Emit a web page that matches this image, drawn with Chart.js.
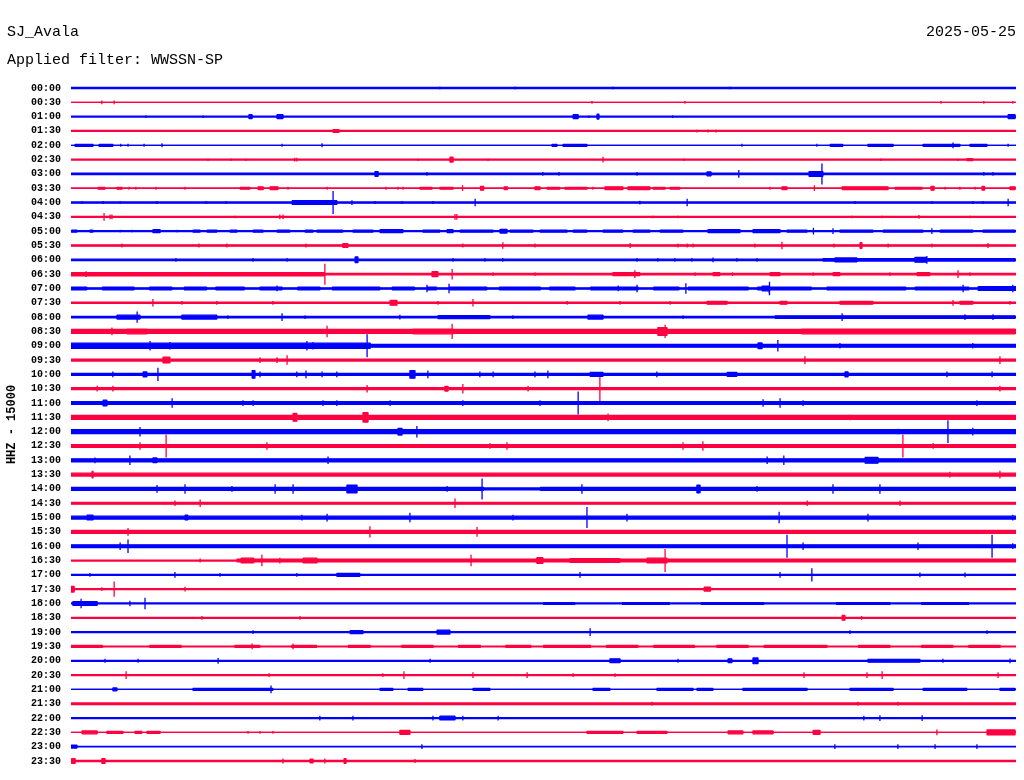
<!DOCTYPE html>
<html>
<head>
<meta charset="utf-8">
<title>SJ_Avala helicorder</title>
<script src="https://cdn.jsdelivr.net/npm/chart.js@4.4.1/dist/chart.umd.min.js"></script>
<style>
  html, body { margin: 0; padding: 0; background: #ffffff; }
  #wrap { width: 1024px; height: 780px; position: relative; }
  canvas { display: block; }
</style>
</head>
<body>
<div id="wrap"><canvas id="c" width="1024" height="780"></canvas></div>
<script>
// ---------- header texts ----------
const stationName = 'SJ_Avala';
const dateText = '2025-05-25';
const filterText = 'Applied filter: WWSSN-SP';
const axisTitle = 'HHZ - 15000';

// ---------- trace start times (y tick labels) ----------
const times = ['00:00','00:30','01:00','01:30','02:00','02:30','03:00','03:30',
  '04:00','04:30','05:00','05:30','06:00','06:30','07:00','07:30',
  '08:00','08:30','09:00','09:30','10:00','10:30','11:00','11:30',
  '12:00','12:30','13:00','13:30','14:00','14:30','15:00','15:30',
  '16:00','16:30','17:00','17:30','18:00','18:30','19:00','19:30',
  '20:00','20:30','21:00','21:30','22:00','22:30','23:00','23:30'];

// trace spacing in thousands of counts (15000 counts per line)
const traceSpacing = 15;

// background noise half-amplitude of each line (kcounts)
const noiseLevel = [0.5,0,0.5,0.5,0,0.5,0.7,0,0.7,0.5,
  0.5,0.7,0.7,0.7,0.7,0.7,0.7,2,1.5,1,
  1,1,1.5,2,2,1.5,1.5,1.5,1,1,
  1.5,1.5,1.5,0.5,0.5,0.5,0.5,0.5,0.5,0.3,
  0.5,0.5,0,0.8,0.5,0,0.3,0.7];

// bursts: [start minute, end minute, half-amplitude kcounts]
const bursts = [
  [],
  [],
  [[5.65,5.75,2],[6.54,6.73,2],[15.94,16.1,2],[16.7,16.76,2.5],[29.75,29.97,2]],
  [[8.32,8.51,1.5]],
  [[0.13,0.7,1],[0.89,1.33,1],[15.27,15.43,1],[15.62,16.38,1],[24.1,24.5,1],[25.3,26.1,1],[27.05,28.22,1],[28.54,29.08,1]],
  [[12.03,12.13,2.5],[28.44,28.63,1]],
  [[9.65,9.75,2.5],[20.19,20.32,2],[23.43,23.87,2.5]],
  [[0.86,1.08,1],[1.46,1.62,1],[5.37,5.68,1],[5.94,6.1,1.5],[6.32,6.57,1.5],[11.08,11.46,1],[11.71,12.13,1],[13.0,13.1,2],[13.75,13.85,1.5],[14.73,14.89,1.5],[15.11,15.52,1],[15.68,16.38,1],[16.95,17.52,1.5],[17.68,18.38,1.5],[18.48,18.86,1],[19.02,19.33,1],[22.57,22.73,1.5],[24.48,25.94,1.5],[26.16,27.02,1],[27.3,27.4,2],[28.92,29.0,2],[29.81,29.97,1.5]],
  [[7.02,8.44,2]],
  [],
  [[0.03,0.19,1],[0.6,0.7,1],[2.6,2.83,1.5],[3.87,4.1,1],[4.32,4.63,1],[5.05,5.27,1],[5.78,6.1,1],[6.54,6.95,1],[7.43,7.68,1],[7.81,8.63,1],[8.95,9.59,1],[9.81,10.54,1.5],[11.17,11.71,1],[11.94,12.13,1.5],[12.35,13.4,1],[13.62,13.84,2],[13.94,14.67,1],[14.89,15.75,1],[15.94,16.38,1],[16.89,17.52,1],[17.84,18.38,1],[18.7,19.43,1],[20.22,21.24,1.5],[21.65,22.51,1.5],[22.73,23.37,1],[24.41,25.46,1],[25.78,27.05,1],[27.59,28.63,1],[28.95,29.97,1]],
  [[8.63,8.79,2],[25.05,25.11,3]],
  [[9.02,9.11,3],[23.87,29.97,1.3],[24.25,24.95,2],[26.79,27.17,2.5]],
  [[0,8.06,1.7],[11.46,11.65,2.5],[17.2,18.06,1.5],[20.38,20.6,1.5],[22.19,22.51,1.5],[24.19,24.41,1.5],[26.86,27.27,1.5]],
  [[0,0.5,1.5],[1.0,2.0,1.5],[2.5,3.2,1.5],[3.6,4.3,1.5],[4.6,5.5,1.5],[6.0,6.7,1.5],[7.2,7.9,1.5],[8.3,9.8,1.5],[10.2,10.9,1.5],[11.3,11.6,1.5],[12.0,13.2,1.5],[13.6,14.9,1.5],[15.2,16.0,1.5],[16.5,18.0,1.5],[18.5,19.3,1.5],[19.6,21.5,1.5],[21.8,23.5,1.5],[21.94,22.19,2.5],[24.0,26.5,1.5],[26.8,28.5,1.5],[28.8,30,2]],
  [[10.13,10.35,2.5],[20.19,20.83,1.5],[22.51,22.73,1.5],[24.41,25.46,1.5],[28.22,28.63,1.5]],
  [[1.46,2.19,2],[3.52,4.63,2],[11.65,13.3,1.5],[16.41,16.89,2],[22.35,29.97,1.3]],
  [[1.78,2.41,2.5],[10.86,12.13,2.5],[18.63,18.92,4],[23.2,29.97,2.5]],
  [[0,9.5,2.7],[21.81,21.94,3]],
  [[2.92,3.14,3]],
  [[2.29,2.41,2.5],[5.75,5.84,4],[10.76,10.92,4],[16.48,16.89,2],[20.83,21.14,2],[24.57,24.67,2.5]],
  [[11.87,11.97,2.5]],
  [[1.02,1.14,3]],
  [[7.05,7.17,4],[9.27,9.43,5]],
  [[10.38,10.51,3.5]],
  [],
  [[2.6,2.73,2.5],[25.21,25.62,3]],
  [[0.67,0.7,3.5]],
  [[0,13.1,1.5],[8.76,9.08,4],[14.9,30,1.5],[19.87,19.97,4]],
  [],
  [[0.51,0.7,2.5],[3.62,3.71,2.5]],
  [],
  [],
  [[5.27,30,1.5],[5.4,5.8,2.5],[7.37,7.81,2.5],[14.79,14.98,3],[15.84,17.43,2],[18.29,18.92,2.5]],
  [[8.44,9.17,1.5]],
  [[0,0.1,3],[20.1,20.3,2]],
  [[0.06,0.83,2],[15,16,1],[17.5,19,1],[20,22,1],[24.3,26,1],[27,28.5,1]],
  [[24.48,24.57,2.5]],
  [[8.86,9.27,1.5],[11.62,12.03,2]],
  [[0,1.0,1],[2.5,3.5,1],[5.2,6.0,1],[7.0,7.8,1],[8.8,9.5,1],[10.5,11.5,1],[12.3,13.0,1],[13.8,14.6,1],[15.0,16.5,1],[17.0,18.0,1],[18.5,19.8,1],[20.5,21.5,1],[22.0,24.0,1],[25.0,26.0,1],[27.0,28.0,1],[28.5,29.5,1]],
  [[17.11,17.43,2],[20.86,20.98,2],[21.65,21.81,3],[25.3,26.95,1.5]],
  [],
  [[1.33,1.46,1.5],[3.87,6.41,1],[9.81,10.22,1],[10.7,11.17,1],[12.76,13.3,1],[16.57,17.11,1],[18.6,19.75,1],[19.87,20.38,1],[21.33,23.37,1],[24.73,26.1,1],[27.05,28.44,1],[29.49,29.97,1]],
  [],
  [[11.71,12.19,2]],
  [[0.35,0.83,1.5],[1.14,1.65,1],[2.03,2.25,1],[2.41,2.83,1],[10.44,10.76,2],[16.38,17.52,1],[17.97,18.92,1],[20.86,21.33,1.5],[21.65,22.29,1.5],[23.56,23.78,2],[29.08,29.97,2.5]],
  [[0,0.19,1.5]],
  [[0.03,0.13,2.5],[0.98,1.08,2.5],[7.59,7.68,2],[8.67,8.73,2.5]]
];

// spikes: [minute, half-amplitude kcounts]
const spikes = [
  [[11.71,1.5],[14.1,1.5],[17.2,1.5],[20.92,1.5]],
  [[0.98,2],[1.37,2],[16.54,1.5],[19.49,1.5],[27.62,1.5],[28.98,1.5],[29.9,1.5]],
  [[2.38,1.5],[4.19,1.5],[16.45,1.5],[19.1,1.5]],
  [[19.87,1.5],[20.22,1.5],[20.48,1.5]],
  [[1.58,1.5],[1.81,1.5],[2.32,1.5],[2.89,2],[6.7,1.5],[7.97,2],[21.3,1.5],[23.68,1.5],[28.0,3],[29.75,1.5]],
  [[4.35,1.5],[5.08,1.5],[5.56,1.5],[7.1,2],[7.17,2],[11.02,1.5],[13.24,1.5],[16.89,3],[19.46,1.5],[25.71,1.5],[28.16,1.5]],
  [[8.13,1.5],[8.32,1.5],[10.03,1.5],[11.3,2],[12.92,1.5],[14.98,2],[15.49,2],[16.0,1.5],[16.6,1.5],[17.97,2],[18.16,1.5],[21.2,4],[21.65,1.5],[23.84,11],[28.98,2],[29.27,2]],
  [[1.84,1.5],[2.06,1.5],[2.7,1.5],[3.62,1.5],[6.89,1.5],[8.13,1.5],[10.0,1.5],[10.38,1.5],[10.54,1.5],[12.43,3],[16.57,1.5],[22.19,1.5],[23.6,3],[27.75,1.5],[28.22,1.5],[28.7,1.5]],
  [[0.35,1.5],[1.02,1.5],[1.56,1.5],[2.73,1.5],[4.29,1.5],[4.92,1.5],[8.32,12],[8.92,2.5],[9.65,1.5],[10.51,1.5],[11.49,1.5],[12.83,4],[18.06,2],[19.56,4],[24.89,1.5],[27.33,1.5],[28.63,1.5],[28.95,1.5],[29.75,4]],
  [[1.05,4],[1.24,2.5],[1.3,2.5],[5.21,1.5],[6.63,2.5],[6.73,2.5],[12.19,3],[12.25,3],[18.48,1.5],[19.27,1.5],[24.79,1.5],[25.75,1.5],[26.92,2],[28.54,1.5]],
  [[1.56,1.5],[1.94,1.5],[3.37,1.5],[23.57,3.5],[24.19,3],[27.33,3]],
  [[1.62,2],[4.06,2],[4.95,2],[7.46,2],[12.44,2],[13.71,3.5],[14.73,2],[17.75,2.5],[19.27,2],[19.56,2],[19.75,2],[21.71,2],[22.57,4],[24.22,2],[25.94,2],[27.33,2],[29.11,2.5]],
  [[3.33,2],[5.78,2],[6.86,2],[12.13,2],[13.14,2],[13.71,2],[17.97,2],[18.63,2],[19.17,2],[19.71,2],[20.38,2.5],[21.14,2],[21.78,2],[27.17,4]],
  [[0.48,3],[8.06,11],[12.1,5.5],[13.4,2],[14.73,2],[17.9,4],[19.81,2],[21.0,2],[23.56,2],[26.0,2],[28.16,4],[28.54,2]],
  [[6.54,3],[11.3,4],[12.0,5],[17.37,3],[17.97,4],[19.52,5.5],[22.16,7],[28.32,4],[29.9,4]],
  [[2.6,4],[3.52,2],[4.63,2],[6.41,2],[11.65,2],[12.76,4],[15.75,2],[17.43,2],[19.02,2],[28.0,3],[29.81,2]],
  [[2.1,6],[4.98,2],[6.7,4],[7.43,2],[10.44,2.5],[14.03,2],[19.43,2],[24.48,4],[28.38,3],[29.27,3]],
  [[1.3,4],[8.13,6],[12.1,8],[18.86,7]],
  [[2.51,5],[3.14,4],[7.49,5],[7.68,4],[9.4,12],[22.44,6],[24.41,3],[28.63,3]],
  [[6.0,3],[6.54,3],[6.86,5],[23.3,4],[29.49,4]],
  [[1.33,3],[2.76,7],[6.0,3],[7.17,3],[7.46,4],[7.97,3],[8.44,3],[11.33,4],[12.98,3],[13.4,3],[14.73,3],[15.14,4],[18.6,3],[27.81,3],[29.24,3]],
  [[0.83,3],[1.33,3],[9.4,4],[12.44,5],[14.51,3],[16.79,13],[29.49,3]],
  [[3.21,5],[5.46,3],[5.78,3],[8.0,3],[8.44,3],[10.13,3],[12.44,3],[14.89,3],[16.1,12],[21.97,4],[22.51,5],[23.24,3],[28.76,3]],
  [[17.05,4],[24.73,3]],
  [[2.19,5],[10.98,6],[26.25,3],[27.84,12],[28.63,4]],
  [[2.19,4],[3.02,12],[6.22,4],[13.3,3],[13.84,4],[19.43,4],[20.06,5],[26.41,12],[27.37,3]],
  [[0.76,3],[1.87,5],[8.16,4],[22.1,4],[22.63,5]],
  [[27.9,3],[29.49,4]],
  [[2.73,4],[3.62,5],[5.11,3],[6.48,5],[7.05,5],[11.94,3],[13.05,11],[16.22,5],[21.78,3],[24.19,5],[25.68,5]],
  [[3.3,3],[4.1,4],[12.19,5],[23.37,3],[26.32,3]],
  [[7.33,3],[8.13,4],[10.76,5],[14.03,3],[16.38,11],[17.65,4],[22.48,6],[25.3,4],[29.9,3]],
  [[1.81,4],[9.49,6],[12.89,5]],
  [[1.56,4],[1.81,7],[22.73,12],[23.24,4],[26.89,4],[29.24,12],[29.9,3]],
  [[4.1,2],[6.06,6],[6.63,3],[12.7,6],[18.86,12]],
  [[0.6,2],[3.3,3],[4.73,2],[7.17,2],[16.16,3],[22.51,3],[23.52,7],[26.95,2.5],[28.38,2.5]],
  [[0.98,2],[1.37,8],[3.62,2.5]],
  [[0.32,5],[1.87,3],[2.35,6]],
  [[4.16,2],[7.27,2],[25.1,2]],
  [[5.78,2],[16.48,4],[24.73,2],[29.08,2]],
  [[5.75,3],[7.05,3]],
  [[1.08,2],[2.13,2],[4.67,3],[11.4,2],[19.27,2],[27.68,2],[29.81,2.5]],
  [[1.75,4],[6.29,2],[9.9,2],[10.57,4],[12.76,3],[14.48,3],[15.94,2],[17.27,2],[23.27,3],[25.27,3],[25.75,4],[29.43,3]],
  [[6.35,4]],
  [[18.44,2],[24.98,2],[26.25,2]],
  [[7.9,2.5],[8.95,2.5],[11.49,2.5],[12.44,2.5],[13.56,2.5],[25.17,2.5],[25.68,3],[27.02,3]],
  [[5.62,1.5],[6.0,1.5],[6.41,1.5],[27.49,3]],
  [[11.14,2.5],[24.25,2.5],[26.25,2.5],[27.43,2.5],[28.76,2.5]],
  [[6.73,2.5],[8.06,2.5],[10.92,2]]
];

// ---------- build datasets ----------
const BLUE = '#0000ff';
const RED = '#ff0040';

function envelope(n, bs, ss) {
  const xs = new Set([0, 30]);
  bs.forEach(b => { xs.add(b[0]); xs.add(b[1]); });
  ss.forEach(s => xs.add(s[0]));
  const sorted = [...xs].sort((a, b) => a - b);
  const pts = [];
  sorted.forEach(x => {
    let L = n, R = n, S = 0;
    bs.forEach(([a0, a1, a]) => {
      if (x > a0 && x <= a1) L = Math.max(L, a);
      if (x >= a0 && x < a1) R = Math.max(R, a);
    });
    ss.forEach(([t, a]) => { if (t === x) S = Math.max(S, a); });
    pts.push([x, L]);
    if (S > Math.max(L, R)) pts.push([x, S]);
    pts.push([x, R]);
  });
  return pts;
}

const datasets = [];
times.forEach((label, i) => {
  const base = i * traceSpacing;
  const env = envelope(noiseLevel[i], bursts[i], spikes[i]);
  const color = i % 2 === 0 ? BLUE : RED;
  const common = {
    borderColor: color,
    backgroundColor: color,
    borderWidth: 1.3,
    pointRadius: 0,
    pointHoverRadius: 0,
    tension: 0,
    borderJoinStyle: 'bevel'
  };
  datasets.push(Object.assign({
    label: label + ' +',
    data: env.map(([x, e]) => ({ x: x, y: base - e })),
    fill: false
  }, common));
  datasets.push(Object.assign({
    label: label + ' -',
    data: env.map(([x, e]) => ({ x: x, y: base + e })),
    fill: '-1'
  }, common));
});

const headerPlugin = {
  id: 'header',
  afterDraw(chart) {
    const c = chart.ctx;
    c.save();
    c.fillStyle = '#000000';
    c.font = '15px "Liberation Mono", "DejaVu Sans Mono", monospace';
    c.textBaseline = 'alphabetic';
    c.textAlign = 'left';
    c.fillText(stationName, 7, 36);
    c.fillText(filterText, 7, 64);
    c.textAlign = 'right';
    c.fillText(dateText, 1016, 36);
    c.restore();
  }
};

const plotTop = 88;       // centre of first line, px
const plotBottom = 761;   // centre of last line, px
const unitPx = (plotBottom - plotTop) / ((times.length - 1) * traceSpacing);
const halfPad = (traceSpacing / 2) * unitPx;

new Chart(document.getElementById('c'), {
  type: 'line',
  data: { datasets: datasets },
  options: {
    responsive: false,
    animation: false,
    events: [],
    layout: { padding: { left: 0, right: 8, top: plotTop - halfPad, bottom: 780 - plotBottom - halfPad } },
    plugins: {
      legend: { display: false },
      tooltip: { enabled: false },
      title: { display: false }
    },
    scales: {
      x: {
        type: 'linear',
        min: 0,
        max: 30,
        display: false
      },
      y: {
        type: 'linear',
        reverse: true,
        min: -traceSpacing / 2,
        max: (times.length - 1) * traceSpacing + traceSpacing / 2,
        afterFit(scale) { scale.width = 71; scale.paddingTop = 0; scale.paddingBottom = 0; },
        afterBuildTicks(scale) {
          scale.ticks = times.map((t, i) => ({ value: i * traceSpacing }));
        },
        grid: { display: false, drawTicks: false },
        border: { display: false },
        ticks: {
          autoSkip: false,
          padding: 10,
          color: '#000000',
          font: { family: 'Liberation Mono', size: 10, weight: 'bold' },
          callback: (value, index) => times[index]
        },
        title: {
          display: true,
          text: axisTitle,
          color: '#000000',
          font: { family: 'Liberation Mono', size: 12, weight: 'bold' },
          padding: { top: 5, bottom: 4 }
        }
      }
    }
  },
  plugins: [headerPlugin]
});
</script>
</body>
</html>
